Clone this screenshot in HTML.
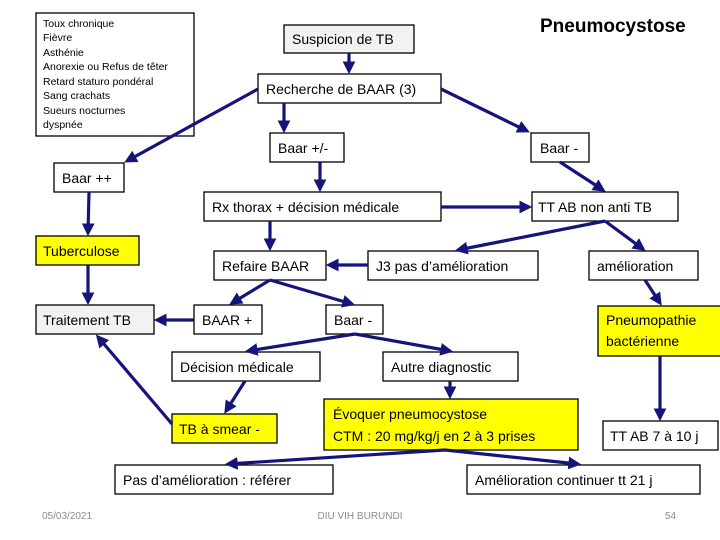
<!DOCTYPE html>
<html><head><meta charset="utf-8"><style>
html,body{margin:0;padding:0;background:#fff;}
svg{display:block;}
text{font-family:"Liberation Sans","DejaVu Sans",sans-serif;}
.b{fill:#fff;stroke:#000;stroke-width:1.3;}
.y{fill:#ffff00;stroke:#000;stroke-width:1.3;}
.g{fill:#f2f2f2;stroke:#000;stroke-width:1.3;}
.t{font-size:14px;fill:#000;}
.a{stroke:#14147a;stroke-width:3.2;fill:none;marker-end:url(#ah);}
</style></head><body>
<svg width="720" height="540" viewBox="0 0 720 540" xmlns="http://www.w3.org/2000/svg">
<defs><marker id="ah" markerWidth="4" markerHeight="4" refX="3" refY="2" orient="auto" markerUnits="strokeWidth"><path d="M0,0 L4,2 L0,4 z" fill="#14147a"/></marker></defs>

<rect class="b" x="36" y="13" width="158" height="123"/>
<g font-size="10.5" fill="#000">
<text x="43" y="27">Toux chronique</text>
<text x="43" y="41">Fièvre</text>
<text x="43" y="56">Asthénie</text>
<text x="43" y="70">Anorexie ou Refus de têter</text>
<text x="43" y="85">Retard staturo pondéral</text>
<text x="43" y="99">Sang crachats</text>
<text x="43" y="114">Sueurs nocturnes</text>
<text x="43" y="128">dyspnée</text>
</g>
<text x="540" y="32" font-size="19" font-weight="bold">Pneumocystose</text>

<rect class="g" x="284" y="25" width="130" height="28"/><text class="t" x="292" y="44">Suspicion de TB</text>
<rect class="b" x="258" y="74" width="183" height="29"/><text class="t" x="266" y="94">Recherche de BAAR (3)</text>
<rect class="b" x="270" y="133" width="74" height="29"/><text class="t" x="278" y="153">Baar +/-</text>
<rect class="b" x="531" y="133" width="58" height="29"/><text class="t" x="540" y="153">Baar -</text>
<rect class="b" x="54" y="163" width="70" height="29"/><text class="t" x="62" y="183">Baar ++</text>
<rect class="b" x="204" y="192" width="237" height="29"/><text class="t" x="212" y="212">Rx thorax + décision médicale</text>
<rect class="b" x="532" y="192" width="146" height="29"/><text class="t" x="538" y="212">TT AB non anti TB</text>
<rect class="y" x="36" y="236" width="103" height="29"/><text class="t" x="43" y="256">Tuberculose</text>
<rect class="b" x="214" y="251" width="112" height="29"/><text class="t" x="222" y="271">Refaire BAAR</text>
<rect class="b" x="368" y="251" width="170" height="29"/><text class="t" x="376" y="271">J3 pas d’amélioration</text>
<rect class="b" x="589" y="251" width="109" height="29"/><text class="t" x="597" y="271">amélioration</text>
<rect class="g" x="36" y="305" width="118" height="29"/><text class="t" x="43" y="325">Traitement TB</text>
<rect class="b" x="194" y="305" width="68" height="29"/><text class="t" x="202" y="325">BAAR +</text>
<rect class="b" x="326" y="305" width="57" height="29"/><text class="t" x="334" y="325">Baar -</text>
<rect class="y" x="598" y="306" width="124" height="50"/><text class="t" x="606" y="325">Pneumopathie</text><text class="t" x="606" y="346">bactérienne</text>
<rect class="b" x="172" y="352" width="148" height="29"/><text class="t" x="180" y="372">Décision médicale</text>
<rect class="b" x="383" y="352" width="135" height="29"/><text class="t" x="391" y="372">Autre diagnostic</text>
<rect class="y" x="172" y="414" width="105" height="29"/><text class="t" x="179" y="434">TB à smear -</text>
<rect class="y" x="324" y="399" width="254" height="51"/><text class="t" x="333" y="419">Évoquer pneumocystose</text><text class="t" x="333" y="441">CTM : 20 mg/kg/j en 2 à 3 prises</text>
<rect class="b" x="603" y="421" width="115" height="29"/><text class="t" x="610" y="441">TT AB 7 à 10 j</text>
<rect class="b" x="115" y="465" width="218" height="29"/><text class="t" x="123" y="485">Pas d’amélioration  : référer</text>
<rect class="b" x="467" y="465" width="233" height="29"/><text class="t" x="475" y="485">Amélioration continuer tt 21 j</text>

<g font-size="10" fill="#8c8c8c">
<text x="42" y="519">05/03/2021</text>
<text x="360" y="519" text-anchor="middle">DIU VIH BURUNDI</text>
<text x="665" y="519">54</text>
</g>

<line class="a" x1="349" y1="53" x2="349" y2="71"/>
<line class="a" x1="258" y1="89" x2="127" y2="161"/>
<line class="a" x1="441" y1="89" x2="527" y2="131"/>
<line class="a" x1="284" y1="103" x2="284" y2="130"/>
<line class="a" x1="320" y1="162" x2="320" y2="189"/>
<line class="a" x1="560" y1="162" x2="603" y2="190"/>
<line class="a" x1="441" y1="207" x2="529" y2="207"/>
<line class="a" x1="605" y1="221" x2="458" y2="250"/>
<line class="a" x1="605" y1="221" x2="643" y2="249"/>
<line class="a" x1="89" y1="192" x2="88" y2="233"/>
<line class="a" x1="88" y1="265" x2="88" y2="302"/>
<line class="a" x1="270" y1="221" x2="270" y2="248"/>
<line class="a" x1="368" y1="265" x2="329" y2="265"/>
<line class="a" x1="270" y1="280" x2="232" y2="303"/>
<line class="a" x1="270" y1="280" x2="352" y2="304"/>
<line class="a" x1="194" y1="320" x2="157" y2="320"/>
<line class="a" x1="355" y1="334" x2="248" y2="351"/>
<line class="a" x1="355" y1="334" x2="450" y2="351"/>
<line class="a" x1="645" y1="280" x2="660" y2="303"/>
<line class="a" x1="245" y1="381" x2="226" y2="411"/>
<line class="a" x1="172" y1="424" x2="98" y2="337"/>
<line class="a" x1="450" y1="381" x2="450" y2="396"/>
<line class="a" x1="660" y1="356" x2="660" y2="418"/>
<line class="a" x1="445" y1="450" x2="228" y2="464"/>
<line class="a" x1="445" y1="450" x2="578" y2="464"/>
</svg>
</body></html>
